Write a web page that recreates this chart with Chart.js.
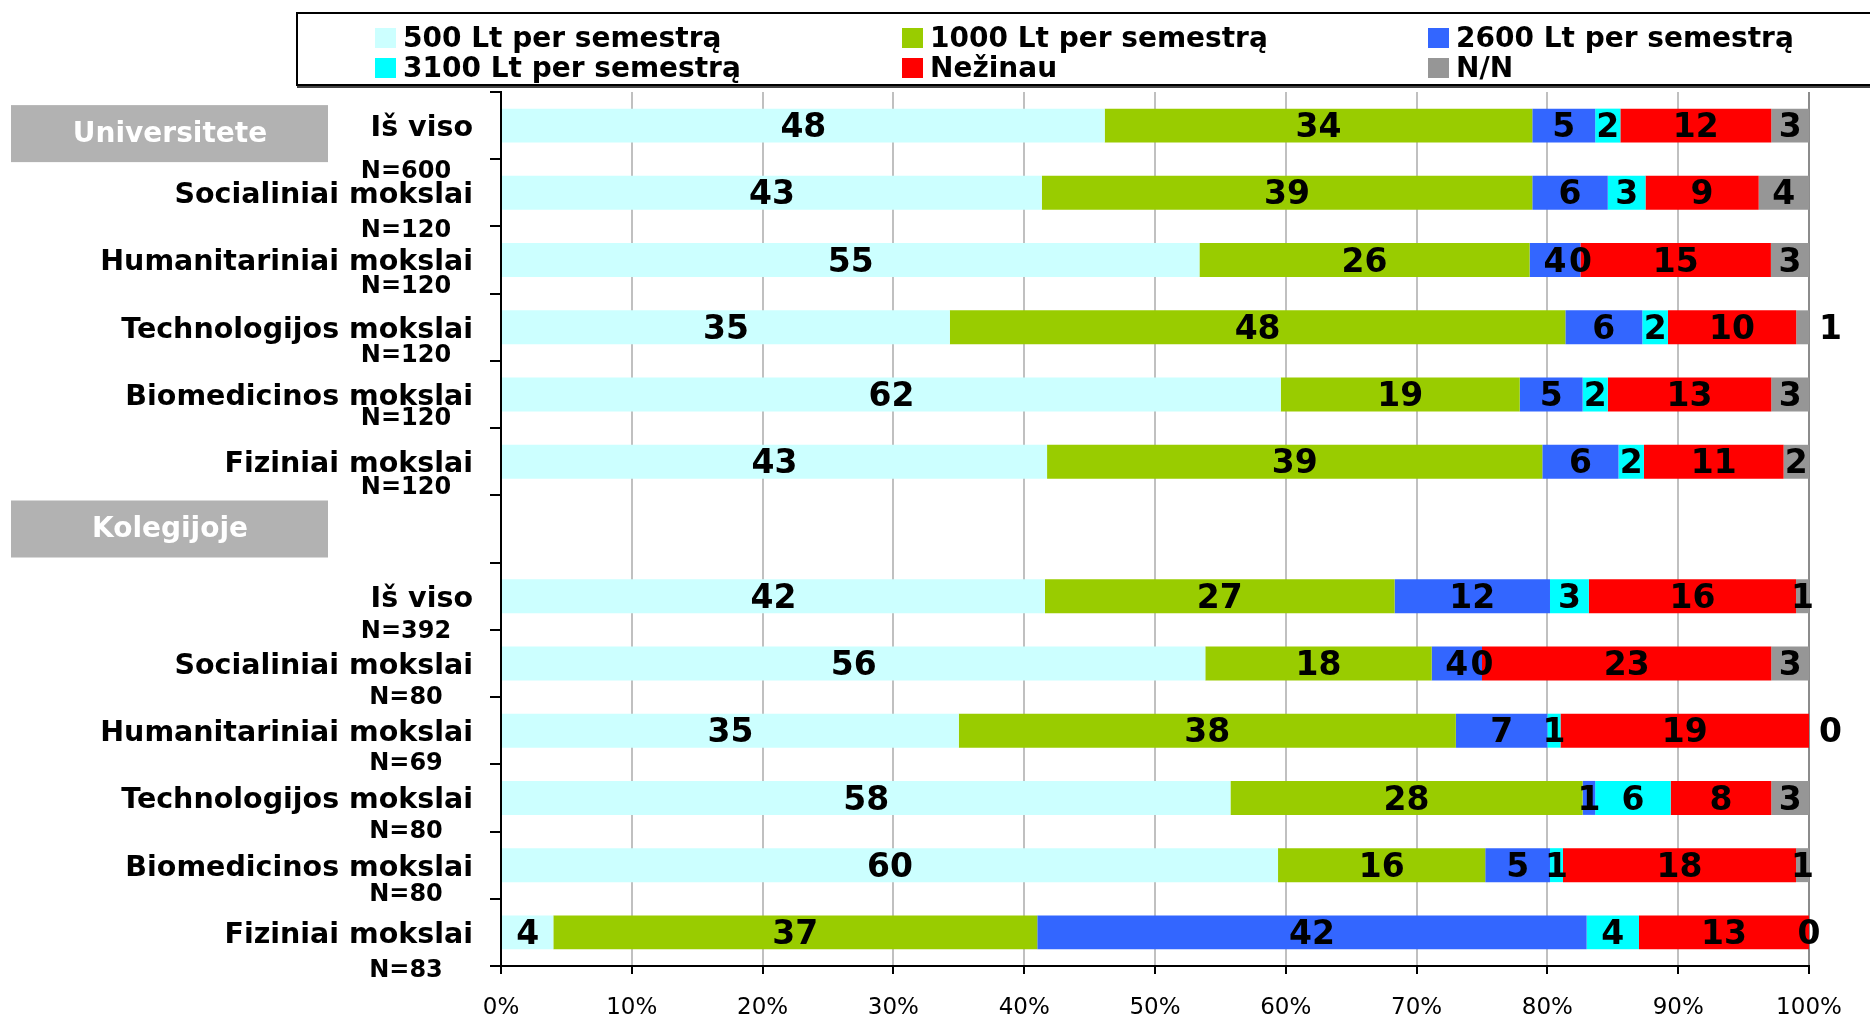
<!DOCTYPE html>
<html>
<head>
<meta charset="utf-8">
<script src="https://cdn.jsdelivr.net/npm/chart.js@4.4.0/dist/chart.umd.min.js"></script>
<style>
  body { margin: 0; background: #fff; font-family: "DejaVu Sans", sans-serif; }
  #wrap { position: relative; width: 1870px; height: 1016px; overflow: hidden; }
  #legend {
    position: absolute; left: 296px; top: 12px; width: 1600px; height: 70px;
    border: 2px solid #000; box-shadow: 1px 2px 0 #444; background: #fff;
  }
  .item { position: absolute; font-weight: bold; font-size: 28px; line-height: 30px; white-space: nowrap; }
  .item span { position: absolute; left: 0; top: 5px; width: 21px; height: 20px; }
  .item b { position: absolute; left: 28px; top: 0; }
</style>
</head>
<body>
<div id="wrap">
  <canvas id="chart"></canvas>
  <div id="legend"></div>
</div>
<script>
// Share of students by amount they would pay, universities vs colleges

const categories = [
    'Iš viso', 'Socialiniai mokslai', 'Humanitariniai mokslai', 'Technologijos mokslai',
    'Biomedicinos mokslai', 'Fiziniai mokslai', '',
    'Iš viso', 'Socialiniai mokslai', 'Humanitariniai mokslai', 'Technologijos mokslai',
    'Biomedicinos mokslai', 'Fiziniai mokslai'
];
const sampleSizes = ['N=600', 'N=120', 'N=120', 'N=120', 'N=120', 'N=120', '',
    'N=392', 'N=80', 'N=69', 'N=80', 'N=80', 'N=83'];
const groupTitles = ['Universitete', 'Kolegijoje'];

const seriesNames = ['500 Lt per semestrą', '1000 Lt per semestrą', '2600 Lt per semestrą',
    '3100 Lt per semestrą', 'Nežinau', 'N/N'];
const seriesColors = ['#CCFFFF', '#99CC00', '#3366FF', '#00FFFF', '#FF0000', '#969696'];

const lt500   = [48, 43, 55, 35, 62, 43, null, 42, 56, 35, 58, 60, 4];
const lt1000  = [34, 39, 26, 48, 19, 39, null, 27, 18, 38, 28, 16, 37];
const lt2600  = [5, 6, 4, 6, 5, 6, null, 12, 4, 7, 1, 5, 42];
const lt3100  = [2, 3, 0, 2, 2, 2, null, 3, 0, 1, 6, 1, 4];
const nezinau = [12, 9, 15, 10, 13, 11, null, 16, 23, 19, 8, 18, 13];
const nn      = [3, 4, 3, 1, 3, 2, null, 1, 3, 0, 3, 1, 0];

const xTicks = [0, 10, 20, 30, 40, 50, 60, 70, 80, 90, 100];

// layout bits
const groupRows = [0, 6];
const groupShift = [8, 0];
const nLabelShift = [46, 38, 27, 28, 24, 26, 0, 36, 34, 33, 34, 30, 38];
const outsideLabels = ['3-5', '9-5'];

const allSeries = [lt500, lt1000, lt2600, lt3100, nezinau, nn];

// each row is drawn as 100%
const rowTotals = categories.map((c, i) => {
    let sum = 0;
    allSeries.forEach(s => { sum += s[i] || 0; });
    return sum;
});

const datasets = allSeries.map((values, si) => ({
    label: seriesNames[si],
    counts: values,
    data: values.map((v, i) => v == null ? null : v / rowTotals[i] * 100),
    backgroundColor: seriesColors[si],
    borderWidth: 0,
    categoryPercentage: 1,
    barPercentage: 0.505
}));

// legend in three columns
const legendEl = document.getElementById('legend');
const legendCols = [77, 604, 1130];
const legendRows = [9, 39];
seriesNames.forEach((name, i) => {
    const item = document.createElement('div');
    item.className = 'item';
    item.style.left = legendCols[i % 3] + 'px';
    item.style.top = legendRows[Math.floor(i / 3)] + 'px';
    item.innerHTML = '<span style="background:' + seriesColors[i] + '"></span><b>' + name + '</b>';
    legendEl.appendChild(item);
});

const valueLabels = {
    id: 'valueLabels',
    afterDatasetsDraw(chart) {
        const ctx = chart.ctx;
        ctx.save();
        ctx.font = 'bold 33px "DejaVu Sans"';
        ctx.fillStyle = '#000';
        ctx.textBaseline = 'middle';
        chart.data.datasets.forEach((ds, di) => {
            chart.getDatasetMeta(di).data.forEach((bar, i) => {
                const v = ds.counts[i];
                if (v == null) return;
                if (outsideLabels.includes(i + '-' + di)) {
                    ctx.textAlign = 'left';
                    ctx.fillText(String(v), bar.x + 10, bar.y + 3);
                } else {
                    ctx.textAlign = 'center';
                    ctx.fillText(String(v), (bar.x + bar.base) / 2, bar.y + 3);
                }
            });
        });
        ctx.restore();
    }
};

const sideLabels = {
    id: 'sideLabels',
    afterDraw(chart) {
        const ctx = chart.ctx;
        const yScale = chart.scales.y;
        ctx.save();
        // group header boxes
        groupTitles.forEach((title, g) => {
            const cy = yScale.getPixelForValue(groupRows[g]) + groupShift[g];
            ctx.fillStyle = '#B2B2B2';
            ctx.fillRect(11, cy - 28.5, 317, 57);
            ctx.fillStyle = '#fff';
            ctx.font = 'bold 28px "DejaVu Sans"';
            ctx.textAlign = 'center';
            ctx.textBaseline = 'middle';
            ctx.fillText(title, 170, cy + 1);
        });
        // sample sizes under the row names
        ctx.fillStyle = '#000';
        ctx.font = 'bold 24px "DejaVu Sans"';
        ctx.textAlign = 'center';
        ctx.textBaseline = 'middle';
        sampleSizes.forEach((n, i) => {
            if (!n) return;
            ctx.fillText(n, 406, yScale.getPixelForValue(i) + nLabelShift[i]);
        });
        ctx.restore();
    }
};

new Chart(document.getElementById('chart'), {
    type: 'bar',
    data: { labels: categories, datasets: datasets },
    plugins: [valueLabels, sideLabels],
    options: {
        indexAxis: 'y',
        responsive: true,
        maintainAspectRatio: false,
        animation: false,
        layout: { padding: { top: 92, right: 61, left: 0, bottom: 0 } },
        plugins: {
            legend: { display: false },
            tooltip: { enabled: false }
        },
        scales: {
            x: {
                stacked: true,
                min: 0,
                max: 100,
                afterBuildTicks: axis => { axis.ticks = xTicks.map(v => ({ value: v })); },
                afterFit: axis => { axis.height = 50; },
                border: { color: '#000', width: 2 },
                grid: {
                    color: c => c.tick && c.tick.value === 100 ? '#8C8C8C' : '#C0C0C0',
                    lineWidth: 2,
                    tickColor: '#000',
                    tickLength: 8
                },
                ticks: {
                    color: '#000',
                    padding: 20,
                    font: { family: 'DejaVu Sans', size: 23 },
                    callback: v => v + '%'
                }
            },
            y: {
                stacked: true,
                afterFit: axis => { axis.width = 501; },
                border: { color: '#000', width: 2 },
                grid: {
                    drawOnChartArea: false,
                    tickColor: '#000',
                    tickLength: 11,
                    lineWidth: 2
                },
                ticks: {
                    color: '#000',
                    padding: 17,
                    labelOffset: 3,
                    autoSkip: false,
                    font: { family: 'DejaVu Sans', size: 28.5, weight: 'bold' }
                }
            }
        }
    }
});
</script>
</body>
</html>
